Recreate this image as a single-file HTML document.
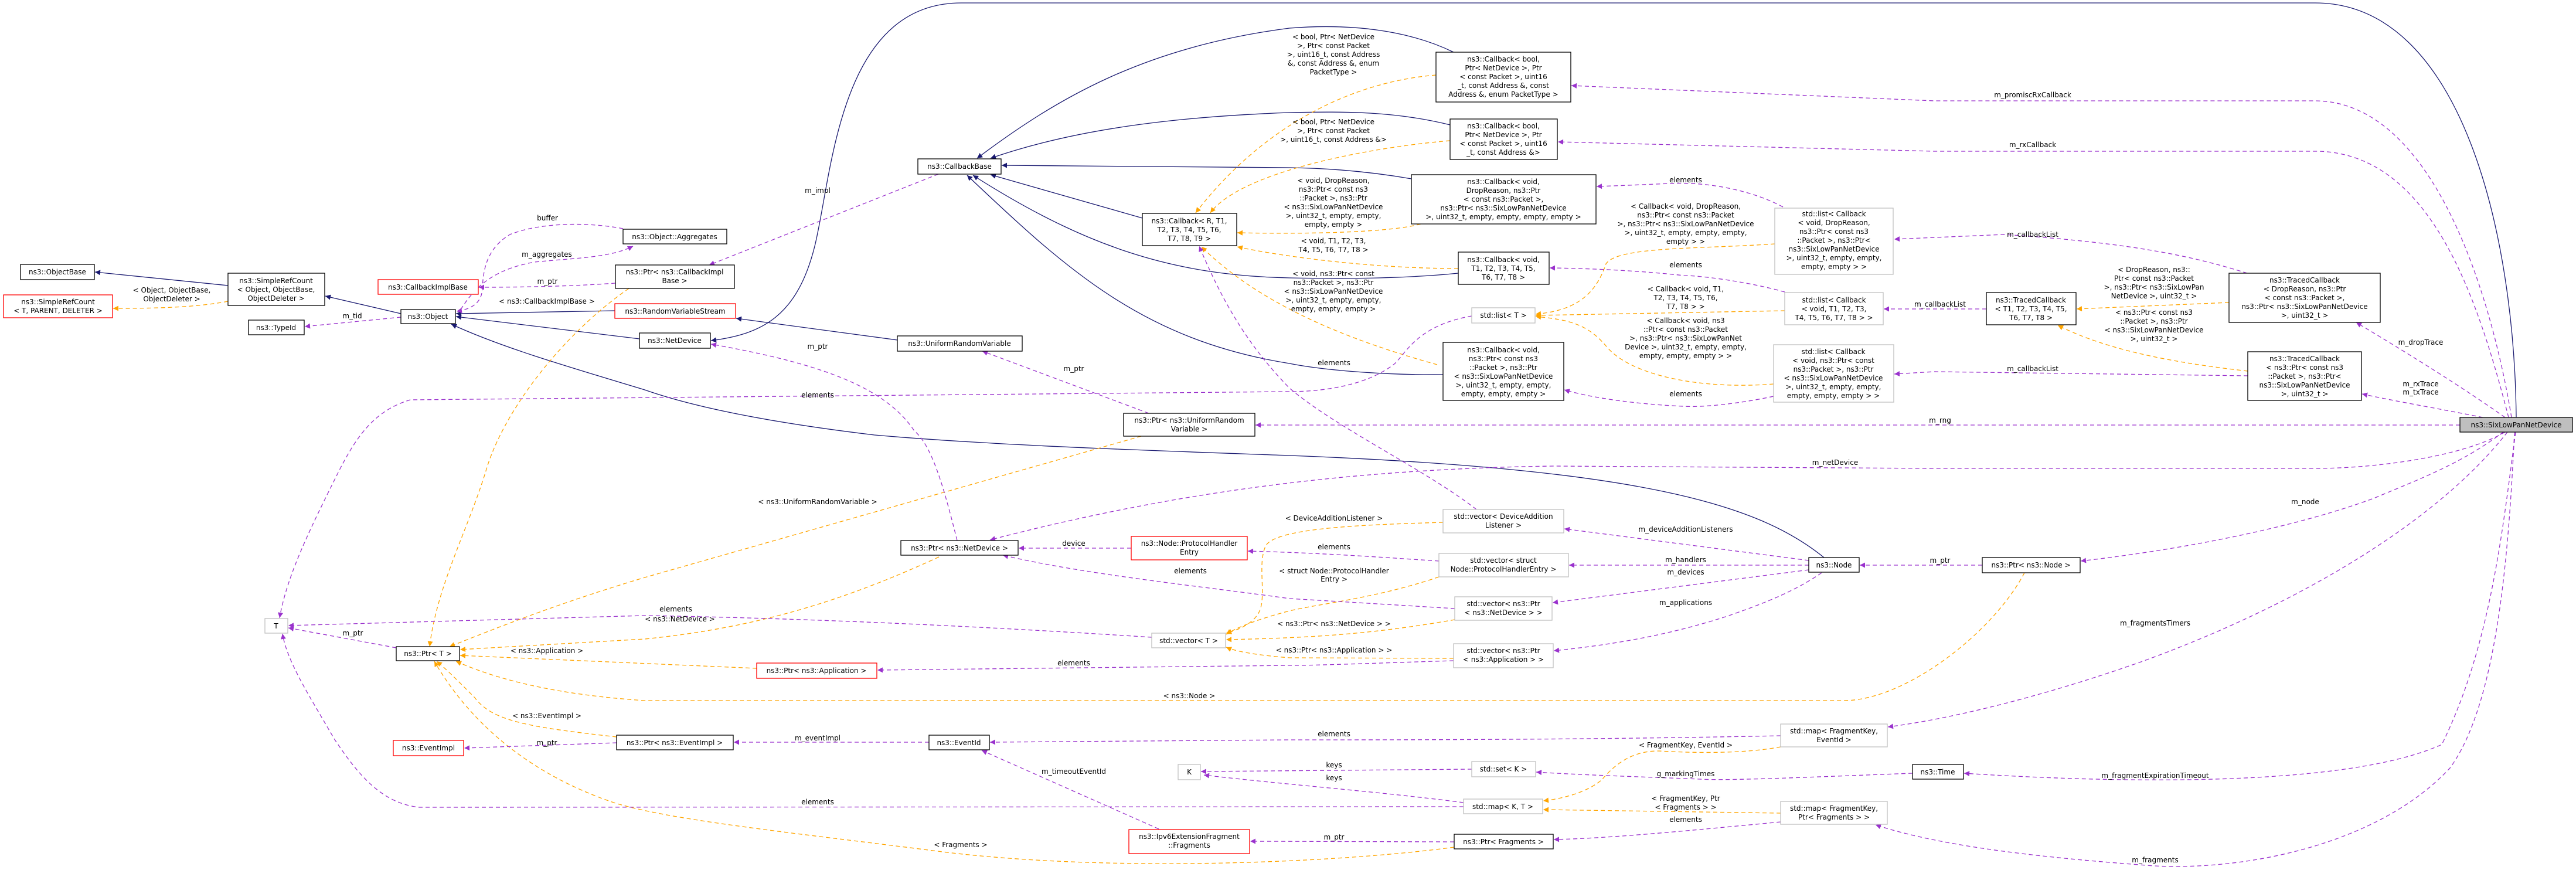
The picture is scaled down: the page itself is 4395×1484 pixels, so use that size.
<!DOCTYPE html>
<html><head><meta charset="utf-8"><style>
html,body{margin:0;padding:0;background:#fff;}
svg{display:block;}
text{font-family:"DejaVu Sans","Liberation Sans",sans-serif;font-size:12px;fill:#000;}
.b{fill:#fff;stroke:#000;stroke-width:1.3;}
.r{fill:#fff;stroke:#ff0000;stroke-width:1.3;}
.g{fill:#fff;stroke:#bfbfbf;stroke-width:1.3;}
.n{fill:none;stroke:#191970;stroke-width:1.3;marker-end:url(#an);}
.p{fill:none;stroke:#9a32cd;stroke-width:1.3;stroke-dasharray:7,5;marker-end:url(#ap);}
.o{fill:none;stroke:#ffa500;stroke-width:1.3;stroke-dasharray:7,5;marker-end:url(#ao);}
.c{text-anchor:middle;}
</style></head><body>
<svg width="4395" height="1484" viewBox="0 0 4395 1484" xmlns="http://www.w3.org/2000/svg">
<defs>
<marker id="an" viewBox="0 0 10 10" refX="10" refY="5" markerWidth="13" markerHeight="9" markerUnits="userSpaceOnUse" orient="auto"><path d="M0,0 L10,5 L0,10 z" fill="#191970"/></marker>
<marker id="ap" viewBox="0 0 10 10" refX="10" refY="5" markerWidth="13" markerHeight="9" markerUnits="userSpaceOnUse" orient="auto"><path d="M0,0 L10,5 L0,10 z" fill="#9a32cd"/></marker>
<marker id="ao" viewBox="0 0 10 10" refX="10" refY="5" markerWidth="13" markerHeight="9" markerUnits="userSpaceOnUse" orient="auto"><path d="M0,0 L10,5 L0,10 z" fill="#ffa500"/></marker>
</defs>

<!-- navy inheritance edges -->
<path class="n" d="M389 487 L162 464"/>
<path class="n" d="M684 535 L555 505"/>
<path class="n" d="M1049 530 L778 535"/>
<path class="n" d="M1091 578 L778 540"/>
<path class="n" d="M3112 951 C3000 860, 2800 800, 2200 777 C1950 768, 1700 760, 1492 742 C1350 725, 1200 700, 1100 665 C950 620, 850 590, 770 553"/>
<path class="n" d="M1531 580 L1256 543"/>
<path class="n" d="M4293 712 C4290 400, 4200 5, 3950 5 L1640 5 C1430 5, 1420 300, 1390 420 C1360 540, 1300 570, 1213 581"/>
<path class="n" d="M2480 89 C2400 50, 2300 40, 2200 48 C1950 80, 1800 170, 1667 270"/>
<path class="n" d="M2474 213 C2380 190, 2300 190, 2200 192 C1980 200, 1820 225, 1690 270"/>
<path class="n" d="M2408 305 C2350 295, 2280 287, 2200 286 L1709 282"/>
<path class="n" d="M1949 372 L1690 298"/>
<path class="n" d="M2488 466 C2400 475, 2300 476, 2200 474 C2000 470, 1850 420, 1660 299"/>
<path class="n" d="M2462 639 C2350 640, 2250 630, 2200 620 C1950 580, 1820 460, 1650 299"/>

<!-- orange template edges -->
<path class="o" d="M389 514 C330 525, 260 526, 193 526"/>
<path class="o" d="M2450 128 C2300 140, 2150 220, 2040 363"/>
<path class="o" d="M2474 240 C2350 250, 2120 290, 2065 363"/>
<path class="o" d="M2424 382 C2380 395, 2250 400, 2111 397"/>
<path class="o" d="M2488 458 C2350 458, 2200 440, 2111 421"/>
<path class="o" d="M2452 622 C2300 580, 2150 520, 2050 421"/>
<path class="o" d="M3028 416 C2900 425, 2760 420, 2740 450 C2720 510, 2680 530, 2620 536"/>
<path class="o" d="M3045 530 L2620 538"/>
<path class="o" d="M3026 655 C2900 665, 2780 640, 2740 590 C2710 555, 2680 545, 2620 540"/>
<path class="o" d="M3803 516 L3543 527"/>
<path class="o" d="M3835 633 C3720 620, 3600 600, 3511 555"/>
<path class="o" d="M1947 744 L1100 985 C950 1030, 850 1070, 767 1103"/>
<path class="o" d="M1602 950 C1450 1020, 1300 1070, 1100 1090 L785 1108"/>
<path class="o" d="M1291 1140 L785 1118"/>
<path class="o" d="M3454 977 C3400 1080, 3250 1195, 3146 1195 L1100 1195 C950 1185, 850 1160, 778 1128"/>
<path class="o" d="M1052 1257 C900 1240, 840 1230, 810 1190 C780 1160, 760 1140, 745 1128"/>
<path class="o" d="M2481 1445 C2300 1470, 1900 1490, 1600 1452 C1350 1420, 1150 1400, 1050 1370 C900 1320, 800 1230, 741 1128"/>
<path class="o" d="M1073 492 C960 570, 860 700, 830 800 C800 900, 745 1000, 733 1103"/>
<path class="o" d="M2462 891 C2330 895, 2180 900, 2160 930 C2145 960, 2160 1010, 2150 1040 C2140 1065, 2110 1075, 2092 1080"/>
<path class="o" d="M2455 984 C2350 1020, 2250 1030, 2200 1042 C2150 1055, 2110 1070, 2092 1082"/>
<path class="o" d="M2482 1057 C2350 1080, 2250 1088, 2092 1091"/>
<path class="o" d="M2480 1123 L2200 1122 C2150 1118, 2110 1112, 2092 1104"/>
<path class="o" d="M3038 1274 C2980 1285, 2900 1285, 2831 1281 C2780 1280, 2750 1310, 2733 1330 C2710 1350, 2670 1362, 2633 1366"/>
<path class="o" d="M3038 1387 L2633 1381"/>

<!-- purple usage edges -->
<path class="p" d="M1063 390 C1000 378, 920 380, 870 400 C820 430, 825 480, 822 500 C818 520, 800 528, 779 531"/>
<path class="p" d="M786 528 C810 490, 840 460, 912 447 C980 440, 1040 440, 1080 420"/>
<path class="p" d="M1050 483 C980 488, 900 490, 817 490"/>
<path class="p" d="M684 541 L520 557"/>
<path class="p" d="M1601 297 L1210 452"/>
<path class="p" d="M1633 922 C1610 830, 1590 760, 1560 735 C1510 660, 1400 620, 1213 587"/>
<path class="p" d="M1960 705 L1676 599"/>
<path class="p" d="M2511 539 C2420 555, 2400 600, 2380 620 C2330 660, 2250 668, 2200 668 L700 682 C640 700, 610 742, 580 800 C530 900, 490 980, 477 1054"/>
<path class="p" d="M1965 1087 C1700 1070, 1400 1055, 1100 1050 L492 1067"/>
<path class="p" d="M2497 1376 L715 1377 C650 1370, 610 1320, 570 1260 C530 1190, 490 1130, 482 1081"/>
<path class="p" d="M676 1105 L492 1071"/>
<path class="p" d="M1052 1267 L792 1276"/>
<path class="p" d="M1585 1266 L1252 1266"/>
<path class="p" d="M1977 1414 L1675 1280"/>
<path class="p" d="M2481 1436 L2133 1435"/>
<path class="p" d="M2511 1312 L2049 1316"/>
<path class="p" d="M2497 1369 C2350 1350, 2200 1339, 2054 1322"/>
<path class="p" d="M1930 935 L1738 935"/>
<path class="p" d="M2455 957 C2350 950, 2250 943, 2129 940"/>
<path class="p" d="M2482 1038 C2350 1030, 2250 1024, 2200 1021 C2050 1000, 1850 980, 1711 947"/>
<path class="p" d="M2480 1127 C2350 1131, 2250 1135, 2200 1135 L1497 1143"/>
<path class="p" d="M3086 956 L2669 902"/>
<path class="p" d="M3086 964 L2677 964"/>
<path class="p" d="M3086 972 L2649 1028"/>
<path class="p" d="M3108 977 C3060 1010, 3007 1030, 2950 1050 C2850 1083, 2750 1100, 2651 1110"/>
<path class="p" d="M3382 964 L3173 964"/>
<path class="p" d="M2519 869 C2430 800, 2280 730, 2200 662 C2120 580, 2080 500, 2046 420"/>
<path class="p" d="M3042 353 C2980 320, 2900 310, 2850 313 C2800 315, 2760 317, 2724 318"/>
<path class="p" d="M3045 498 C2980 480, 2900 470, 2873 470 C2800 462, 2720 458, 2644 457"/>
<path class="p" d="M3026 676 C2960 690, 2900 695, 2873 693 C2800 690, 2720 680, 2669 665"/>
<path class="p" d="M3834 466 C3750 440, 3650 415, 3419 400 L3232 408"/>
<path class="p" d="M3389 527 L3214 527"/>
<path class="p" d="M3835 641 L3300 634 L3232 638"/>
<path class="p" d="M4274 712 C4200 660, 4120 610, 4020 550"/>
<path class="p" d="M4236 712 C4150 695, 4090 685, 4030 672"/>
<path class="p" d="M4285 712 C4250 500, 4150 173, 3950 172 L3300 172 L2681 146"/>
<path class="p" d="M4280 712 C4230 520, 4150 258, 3950 258 L3300 258 L2658 242"/>
<path class="p" d="M4197 725 L2142 725"/>
<path class="p" d="M4274 737 C4200 780, 4050 799, 3950 799 L3300 799 L2650 795 C2300 800, 2000 840, 1689 921"/>
<path class="p" d="M4271 737 C4200 790, 4138 813, 4050 850 C3900 905, 3700 940, 3550 957"/>
<path class="p" d="M4278 737 C4150 900, 3900 1040, 3650 1130 C3450 1200, 3300 1230, 3221 1240"/>
<path class="p" d="M4292 737 C4270 900, 4250 1100, 4166 1270 C4000 1345, 3600 1335, 3351 1319"/>
<path class="p" d="M4290 737 C4280 950, 4260 1200, 4180 1310 C4050 1450, 3800 1490, 3650 1475 C3450 1460, 3300 1440, 3200 1407"/>
<path class="p" d="M3263 1319 C3100 1325, 2950 1332, 2900 1329 C2800 1325, 2700 1322, 2621 1317"/>
<path class="p" d="M3038 1255 C2700 1262, 2400 1262, 2200 1262 L1689 1266"/>
<path class="p" d="M3038 1402 C2900 1415, 2750 1430, 2651 1432"/>

<!-- edge labels -->
<g class="c">
<text x="293" y="499">&lt; Object, ObjectBase,</text><text x="293" y="514">ObjectDeleter &gt;</text>
<text x="601" y="543">m_tid</text>
<text x="934" y="376">buffer</text>
<text x="933" y="438">m_aggregates</text>
<text x="934" y="484">m_ptr</text>
<text x="933" y="518">&lt; ns3::CallbackImplBase &gt;</text>
<text x="1395" y="329">m_impl</text>
<text x="1395" y="595">m_ptr</text>
<text x="1832" y="633">m_ptr</text>
<text x="1395" y="678">elements</text>
<text x="602" y="1084">m_ptr</text>
<text x="933" y="1114">&lt; ns3::Application &gt;</text>
<text x="933" y="1225">&lt; ns3::EventImpl &gt;</text>
<text x="933" y="1271">m_ptr</text>
<text x="1395" y="860">&lt; ns3::UniformRandomVariable &gt;</text>
<text x="1832" y="931">device</text>
<text x="2031" y="978">elements</text>
<text x="1153" y="1043">elements</text>
<text x="1160" y="1060">&lt; ns3::NetDevice &gt;</text>
<text x="1832" y="1135">elements</text>
<text x="2029" y="1191">&lt; ns3::Node &gt;</text>
<text x="1395" y="1263">m_eventImpl</text>
<text x="1832" y="1320">m_timeoutEventId</text>
<text x="1395" y="1372">elements</text>
<text x="1639" y="1445">&lt; Fragments &gt;</text>
<text x="2275" y="67">&lt; bool, Ptr&lt; NetDevice</text><text x="2275" y="82">&gt;, Ptr&lt; const Packet</text><text x="2275" y="97">&gt;, uint16_t, const Address</text><text x="2275" y="112">&amp;, const Address &amp;, enum</text><text x="2275" y="127">PacketType &gt;</text>
<text x="2275" y="212">&lt; bool, Ptr&lt; NetDevice</text><text x="2275" y="227">&gt;, Ptr&lt; const Packet</text><text x="2275" y="242">&gt;, uint16_t, const Address &amp;&gt;</text>
<text x="2275" y="312">&lt; void, DropReason,</text><text x="2275" y="327">ns3::Ptr&lt; const ns3</text><text x="2275" y="342">::Packet &gt;, ns3::Ptr</text><text x="2275" y="357">&lt; ns3::SixLowPanNetDevice</text><text x="2275" y="372">&gt;, uint32_t, empty, empty,</text><text x="2275" y="387">empty, empty &gt;</text>
<text x="2275" y="415">&lt; void, T1, T2, T3,</text><text x="2275" y="430">T4, T5, T6, T7, T8 &gt;</text>
<text x="2275" y="471">&lt; void, ns3::Ptr&lt; const</text><text x="2275" y="486">ns3::Packet &gt;, ns3::Ptr</text><text x="2275" y="501">&lt; ns3::SixLowPanNetDevice</text><text x="2275" y="516">&gt;, uint32_t, empty, empty,</text><text x="2275" y="531">empty, empty, empty &gt;</text>
<text x="2276" y="623">elements</text>
<text x="2876" y="311">elements</text>
<text x="2876" y="356">&lt; Callback&lt; void, DropReason,</text><text x="2876" y="371">ns3::Ptr&lt; const ns3::Packet</text><text x="2876" y="386">&gt;, ns3::Ptr&lt; ns3::SixLowPanNetDevice</text><text x="2876" y="401">&gt;, uint32_t, empty, empty, empty,</text><text x="2876" y="416">empty &gt; &gt;</text>
<text x="2876" y="456">elements</text>
<text x="2876" y="497">&lt; Callback&lt; void, T1,</text><text x="2876" y="512">T2, T3, T4, T5, T6,</text><text x="2876" y="527">T7, T8 &gt; &gt;</text>
<text x="2876" y="551">&lt; Callback&lt; void, ns3</text><text x="2876" y="566">::Ptr&lt; const ns3::Packet</text><text x="2876" y="581">&gt;, ns3::Ptr&lt; ns3::SixLowPanNet</text><text x="2876" y="596">Device &gt;, uint32_t, empty, empty,</text><text x="2876" y="611">empty, empty, empty &gt; &gt;</text>
<text x="2876" y="676">elements</text>
<text x="3310" y="523">m_callbackList</text>
<text x="3310" y="721">m_rng</text>
<text x="3468" y="166">m_promiscRxCallback</text>
<text x="3468" y="251">m_rxCallback</text>
<text x="3468" y="404">m_callbackList</text>
<text x="3468" y="633">m_callbackList</text>
<text x="3675" y="464">&lt; DropReason, ns3::</text><text x="3675" y="479">Ptr&lt; const ns3::Packet</text><text x="3675" y="494">&gt;, ns3::Ptr&lt; ns3::SixLowPan</text><text x="3675" y="509">NetDevice &gt;, uint32_t &gt;</text>
<text x="3675" y="537">&lt; ns3::Ptr&lt; const ns3</text><text x="3675" y="552">::Packet &gt;, ns3::Ptr</text><text x="3675" y="567">&lt; ns3::SixLowPanNetDevice</text><text x="3675" y="582">&gt;, uint32_t &gt;</text>
<text x="4130" y="588">m_dropTrace</text>
<text x="4130" y="659">m_rxTrace</text><text x="4130" y="673">m_txTrace</text>
<text x="3131" y="793">m_netDevice</text>
<text x="2276" y="888">&lt; DeviceAdditionListener &gt;</text>
<text x="2276" y="937">elements</text>
<text x="2276" y="978">&lt; struct Node::ProtocolHandler</text><text x="2276" y="992">Entry &gt;</text>
<text x="2276" y="1068">&lt; ns3::Ptr&lt; ns3::NetDevice &gt; &gt;</text>
<text x="2276" y="1113">&lt; ns3::Ptr&lt; ns3::Application &gt; &gt;</text>
<text x="2876" y="907">m_deviceAdditionListeners</text>
<text x="2876" y="959">m_handlers</text>
<text x="2876" y="980">m_devices</text>
<text x="2876" y="1032">m_applications</text>
<text x="3310" y="960">m_ptr</text>
<text x="2276" y="1256">elements</text>
<text x="2876" y="1275">&lt; FragmentKey, EventId &gt;</text>
<text x="2276" y="1309">keys</text>
<text x="2276" y="1331">keys</text>
<text x="2876" y="1324">g_markingTimes</text>
<text x="2876" y="1366">&lt; FragmentKey, Ptr</text><text x="2876" y="1381">&lt; Fragments &gt; &gt;</text>
<text x="2876" y="1402">elements</text>
<text x="2276" y="1432">m_ptr</text>
<text x="3933" y="860">m_node</text>
<text x="3677" y="1067">m_fragmentsTimers</text>
<text x="3677" y="1327">m_fragmentExpirationTimeout</text>
<text x="3677" y="1471">m_fragments</text>
</g>

<!-- nodes -->
<g class="c">
<rect class="b" x="35" y="451" width="126" height="26"/><text x="98" y="468">ns3::ObjectBase</text>
<rect class="r" x="6" y="503" width="186" height="39"/><text x="99" y="519">ns3::SimpleRefCount</text><text x="99" y="534">&lt; T, PARENT, DELETER &gt;</text>
<rect class="b" x="389" y="466" width="165" height="55"/><text x="471" y="483">ns3::SimpleRefCount</text><text x="471" y="498">&lt; Object, ObjectBase,</text><text x="471" y="513">ObjectDeleter &gt;</text>
<rect class="b" x="424" y="546" width="95" height="25"/><text x="471" y="563">ns3::TypeId</text>
<rect class="b" x="684" y="528" width="93" height="24"/><text x="730" y="544">ns3::Object</text>
<rect class="r" x="645" y="477" width="171" height="25"/><text x="730" y="494">ns3::CallbackImplBase</text>
<rect class="b" x="1063" y="391" width="177" height="25"/><text x="1151" y="408">ns3::Object::Aggregates</text>
<rect class="b" x="1050" y="452" width="203" height="40"/><text x="1151" y="468">ns3::Ptr&lt; ns3::CallbackImpl</text><text x="1151" y="483">Base &gt;</text>
<rect class="r" x="1049" y="518" width="206" height="25"/><text x="1152" y="535">ns3::RandomVariableStream</text>
<rect class="b" x="1091" y="568" width="121" height="26"/><text x="1151" y="585">ns3::NetDevice</text>
<rect class="g" x="452" y="1055" width="39" height="25"/><text x="471" y="1072">T</text>
<rect class="b" x="676" y="1103" width="108" height="24"/><text x="730" y="1119">ns3::Ptr&lt; T &gt;</text>
<rect class="r" x="671" y="1263" width="120" height="26"/><text x="731" y="1280">ns3::EventImpl</text>
<rect class="b" x="1052" y="1254" width="199" height="25"/><text x="1151" y="1271">ns3::Ptr&lt; ns3::EventImpl &gt;</text>
<rect class="b" x="1566" y="271" width="142" height="26"/><text x="1637" y="288">ns3::CallbackBase</text>
<rect class="b" x="1949" y="364" width="161" height="55"/><text x="2029" y="381">ns3::Callback&lt; R, T1,</text><text x="2029" y="396">T2, T3, T4, T5, T6,</text><text x="2029" y="411">T7, T8, T9 &gt;</text>
<rect class="b" x="1531" y="573" width="213" height="26"/><text x="1637" y="590">ns3::UniformRandomVariable</text>
<rect class="b" x="1917" y="705" width="224" height="39"/><text x="2029" y="721">ns3::Ptr&lt; ns3::UniformRandom</text><text x="2029" y="736">Variable &gt;</text>
<rect class="b" x="1537" y="922" width="200" height="25"/><text x="1637" y="939">ns3::Ptr&lt; ns3::NetDevice &gt;</text>
<rect class="r" x="1930" y="915" width="198" height="40"/><text x="2029" y="931">ns3::Node::ProtocolHandler</text><text x="2029" y="946">Entry</text>
<rect class="g" x="1965" y="1080" width="126" height="25"/><text x="2028" y="1097">std::vector&lt; T &gt;</text>
<rect class="r" x="1291" y="1131" width="205" height="26"/><text x="1393" y="1148">ns3::Ptr&lt; ns3::Application &gt;</text>
<rect class="b" x="1585" y="1254" width="103" height="25"/><text x="1636" y="1271">ns3::EventId</text>
<rect class="g" x="2010" y="1304" width="38" height="26"/><text x="2029" y="1321">K</text>
<rect class="r" x="1926" y="1415" width="206" height="41"/><text x="2029" y="1431">ns3::Ipv6ExtensionFragment</text><text x="2029" y="1446">::Fragments</text>
<rect class="b" x="2450" y="89" width="230" height="85"/><text x="2565" y="105">ns3::Callback&lt; bool,</text><text x="2565" y="120">Ptr&lt; NetDevice &gt;, Ptr</text><text x="2565" y="135">&lt; const Packet &gt;, uint16</text><text x="2565" y="150">_t, const Address &amp;, const</text><text x="2565" y="165">Address &amp;, enum PacketType &gt;</text>
<rect class="b" x="2474" y="203" width="183" height="69"/><text x="2565" y="219">ns3::Callback&lt; bool,</text><text x="2565" y="234">Ptr&lt; NetDevice &gt;, Ptr</text><text x="2565" y="249">&lt; const Packet &gt;, uint16</text><text x="2565" y="264">_t, const Address &amp;&gt;</text>
<rect class="b" x="2408" y="298" width="315" height="84"/><text x="2565" y="314">ns3::Callback&lt; void,</text><text x="2565" y="329">DropReason, ns3::Ptr</text><text x="2565" y="344">&lt; const ns3::Packet &gt;,</text><text x="2565" y="359">ns3::Ptr&lt; ns3::SixLowPanNetDevice</text><text x="2565" y="374">&gt;, uint32_t, empty, empty, empty, empty &gt;</text>
<rect class="b" x="2488" y="430" width="155" height="55"/><text x="2565" y="447">ns3::Callback&lt; void,</text><text x="2565" y="462">T1, T2, T3, T4, T5,</text><text x="2565" y="477">T6, T7, T8 &gt;</text>
<rect class="g" x="2511" y="525" width="108" height="26"/><text x="2565" y="542">std::list&lt; T &gt;</text>
<rect class="b" x="2462" y="584" width="206" height="99"/><text x="2565" y="601">ns3::Callback&lt; void,</text><text x="2565" y="616">ns3::Ptr&lt; const ns3</text><text x="2565" y="631">::Packet &gt;, ns3::Ptr</text><text x="2565" y="646">&lt; ns3::SixLowPanNetDevice</text><text x="2565" y="661">&gt;, uint32_t, empty, empty,</text><text x="2565" y="676">empty, empty, empty &gt;</text>
<rect class="g" x="3028" y="355" width="202" height="113"/><text x="3129" y="369">std::list&lt; Callback</text><text x="3129" y="384">&lt; void, DropReason,</text><text x="3129" y="399">ns3::Ptr&lt; const ns3</text><text x="3129" y="414">::Packet &gt;, ns3::Ptr&lt;</text><text x="3129" y="429">ns3::SixLowPanNetDevice</text><text x="3129" y="444">&gt;, uint32_t, empty, empty,</text><text x="3129" y="459">empty, empty &gt; &gt;</text>
<rect class="g" x="3045" y="499" width="168" height="55"/><text x="3129" y="516">std::list&lt; Callback</text><text x="3129" y="531">&lt; void, T1, T2, T3,</text><text x="3129" y="546">T4, T5, T6, T7, T8 &gt; &gt;</text>
<rect class="g" x="3026" y="588" width="205" height="98"/><text x="3128" y="604">std::list&lt; Callback</text><text x="3128" y="619">&lt; void, ns3::Ptr&lt; const</text><text x="3128" y="634">ns3::Packet &gt;, ns3::Ptr</text><text x="3128" y="649">&lt; ns3::SixLowPanNetDevice</text><text x="3128" y="664">&gt;, uint32_t, empty, empty,</text><text x="3128" y="679">empty, empty, empty &gt; &gt;</text>
<rect class="g" x="2462" y="869" width="206" height="40"/><text x="2565" y="885">std::vector&lt; DeviceAddition</text><text x="2565" y="900">Listener &gt;</text>
<rect class="g" x="2455" y="944" width="221" height="40"/><text x="2565" y="960">std::vector&lt; struct</text><text x="2565" y="975">Node::ProtocolHandlerEntry &gt;</text>
<rect class="g" x="2482" y="1018" width="166" height="40"/><text x="2565" y="1034">std::vector&lt; ns3::Ptr</text><text x="2565" y="1049">&lt; ns3::NetDevice &gt; &gt;</text>
<rect class="g" x="2480" y="1098" width="170" height="41"/><text x="2565" y="1114">std::vector&lt; ns3::Ptr</text><text x="2565" y="1129">&lt; ns3::Application &gt; &gt;</text>
<rect class="b" x="3086" y="951" width="86" height="25"/><text x="3129" y="968">ns3::Node</text>
<rect class="g" x="3038" y="1235" width="182" height="39"/><text x="3129" y="1251">std::map&lt; FragmentKey,</text><text x="3129" y="1266">EventId &gt;</text>
<rect class="g" x="2511" y="1299" width="109" height="26"/><text x="2565" y="1316">std::set&lt; K &gt;</text>
<rect class="g" x="2497" y="1363" width="135" height="25"/><text x="2564" y="1380">std::map&lt; K, T &gt;</text>
<rect class="g" x="3038" y="1367" width="182" height="39"/><text x="3129" y="1383">std::map&lt; FragmentKey,</text><text x="3129" y="1398">Ptr&lt; Fragments &gt; &gt;</text>
<rect class="b" x="2481" y="1423" width="169" height="25"/><text x="2565" y="1440">ns3::Ptr&lt; Fragments &gt;</text>
<rect class="b" x="3263" y="1304" width="87" height="25"/><text x="3306" y="1321">ns3::Time</text>
<rect class="b" x="3389" y="499" width="153" height="55"/><text x="3465" y="516">ns3::TracedCallback</text><text x="3465" y="531">&lt; T1, T2, T3, T4, T5,</text><text x="3465" y="546">T6, T7, T8 &gt;</text>
<rect class="b" x="3803" y="466" width="258" height="84"/><text x="3932" y="482">ns3::TracedCallback</text><text x="3932" y="497">&lt; DropReason, ns3::Ptr</text><text x="3932" y="512">&lt; const ns3::Packet &gt;,</text><text x="3932" y="527">ns3::Ptr&lt; ns3::SixLowPanNetDevice</text><text x="3932" y="542">&gt;, uint32_t &gt;</text>
<rect class="b" x="3835" y="600" width="194" height="83"/><text x="3932" y="616">ns3::TracedCallback</text><text x="3932" y="631">&lt; ns3::Ptr&lt; const ns3</text><text x="3932" y="646">::Packet &gt;, ns3::Ptr&lt;</text><text x="3932" y="661">ns3::SixLowPanNetDevice</text><text x="3932" y="676">&gt;, uint32_t &gt;</text>
<rect x="4197" y="712" width="192" height="25" fill="#bfbfbf" stroke="#000" stroke-width="1.3"/><text x="4293" y="729">ns3::SixLowPanNetDevice</text>
<rect class="b" x="3382" y="951" width="167" height="26"/><text x="3465" y="968">ns3::Ptr&lt; ns3::Node &gt;</text>
</g>
</svg>
</body></html>
